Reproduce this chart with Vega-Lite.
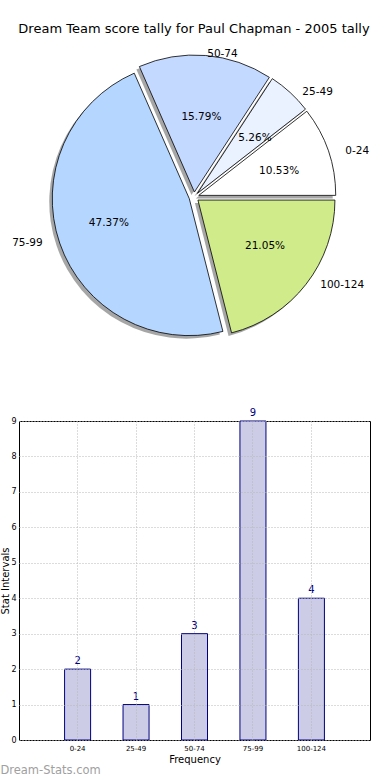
{
  "$schema": "https://vega.github.io/schema/vega-lite/v6.json",
  "padding": {"top": 23, "left": 0, "right": 0, "bottom": 0},
  "background": "white",
  "config": {"font": "DejaVu Sans", "view": {"stroke": null}},
  "datasets": {
    "tally": [
      {"range": "0-24", "lo": 0, "count": 2, "pct": "10.53%"},
      {"range": "25-49", "lo": 25, "count": 1, "pct": "5.26%"},
      {"range": "50-74", "lo": 50, "count": 3, "pct": "15.79%"},
      {"range": "75-99", "lo": 75, "count": 9, "pct": "47.37%"},
      {"range": "100-124", "lo": 100, "count": 4, "pct": "21.05%"}
    ]
  },
  "title": {"text": "Dream-Stats.com", "orient": "bottom", "anchor": "start", "color": "#a0a0a0", "fontSize": 11.5, "fontWeight": "normal", "offset": 0, "frame": "bounds"},
  "bounds": "flush",
  "spacing": 77,
  "vconcat": [
    {
      "width": 350,
      "height": 294,
      "title": {"text": "Dream Team score tally for Paul Chapman - 2005 tally", "fontSize": 13, "fontWeight": "normal", "anchor": "middle", "offset": 13, "color": "black", "frame": "group"},
      "data": {"name": "tally"},
      "transform": [{"joinaggregate": [{"op": "sum", "field": "count", "as": "total"}]}],
      "encoding": {
        "theta": {"field": "count", "type": "quantitative", "stack": true, "scale": {"range": [1.5707963, -4.712389]}},
        "order": {"field": "lo", "type": "quantitative"}
      },
      "layer": [
        {
          "mark": {"type": "arc", "outerRadius": 137, "fill": "#808080", "opacity": 0.7,
            "xOffset": {"expr": "-3 + 5*sin(PI/2 - PI*(datum.count_start+datum.count_end)/datum.total)"},
            "yOffset": {"expr": "3 - 5*cos(PI/2 - PI*(datum.count_start+datum.count_end)/datum.total)"}}
        },
        {
          "mark": {"type": "arc", "outerRadius": 137, "stroke": "black", "strokeWidth": 0.8,
            "xOffset": {"expr": "5*sin(PI/2 - PI*(datum.count_start+datum.count_end)/datum.total)"},
            "yOffset": {"expr": "-5*cos(PI/2 - PI*(datum.count_start+datum.count_end)/datum.total)"}},
          "encoding": {
            "color": {"field": "range", "type": "nominal", "legend": null,
              "scale": {"domain": ["0-24", "25-49", "50-74", "75-99", "100-124"],
                        "range": ["#ffffff", "#eaf2ff", "#c4d9ff", "#b5d6ff", "#cfeb8a"]}}
          }
        },
        {
          "mark": {"type": "text", "radius": 0, "fontSize": 10.5, "color": "black",
            "xOffset": {"expr": "90*sin(PI/2 - PI*(datum.count_start+datum.count_end)/datum.total)"},
            "yOffset": {"expr": "-80*cos(PI/2 - PI*(datum.count_start+datum.count_end)/datum.total)"}},
          "encoding": {"text": {"field": "pct", "type": "nominal"}}
        },
        {
          "mark": {"type": "text", "radius": 0, "fontSize": 10.5, "color": "black",
            "align": {"expr": "sin(PI/2 - PI*(datum.count_start+datum.count_end)/datum.total) >= 0 ? 'left' : 'right'"},
            "xOffset": {"expr": "160*sin(PI/2 - PI*(datum.count_start+datum.count_end)/datum.total)"},
            "yOffset": {"expr": "-143*cos(PI/2 - PI*(datum.count_start+datum.count_end)/datum.total)"}},
          "encoding": {"text": {"field": "range", "type": "nominal"}}
        }
      ]
    },
    {
      "width": 351,
      "height": 319,
      "view": {"stroke": "black", "strokeWidth": 1},
      "data": {"name": "tally"},
      "encoding": {
        "x": {"field": "range", "type": "nominal",
          "sort": ["0-24", "25-49", "50-74", "75-99", "100-124"],
          "scale": {"paddingInner": 0.555, "paddingOuter": 0.78},
          "axis": {"title": "Frequency", "titleFontSize": 10, "titleFontWeight": "normal", "titleColor": "black", "titlePadding": 3,
            "labelAngle": 0, "labelFontSize": 7, "labelColor": "black", "labelPadding": 4,
            "ticks": false, "domain": false, "grid": true, "bandPosition": 0.5,
            "gridDash": [1, 2], "gridColor": "#b8b8b8", "zindex": 1}},
        "y": {"field": "count", "type": "quantitative",
          "scale": {"domain": [0, 9], "nice": false},
          "axis": {"title": "Stat Intervals", "titleFontSize": 10, "titleFontWeight": "normal", "titleColor": "black", "titlePadding": 0,
            "values": [0, 1, 2, 3, 4, 5, 6, 7, 8, 9], "labelFontSize": 8, "labelColor": "black", "labelPadding": 3,
            "ticks": false, "domain": false, "grid": true, "gridDash": [1, 2], "gridColor": "#b8b8b8", "zindex": 1}}
      },
      "layer": [
        {"mark": {"type": "bar", "fill": "#ccccE6", "stroke": "#000080", "strokeWidth": 1}},
        {"mark": {"type": "text", "baseline": "bottom", "dy": -3, "fontSize": 10, "color": "#000080"},
          "encoding": {"text": {"field": "count", "type": "quantitative"}}}
      ]
    }
  ]
}
